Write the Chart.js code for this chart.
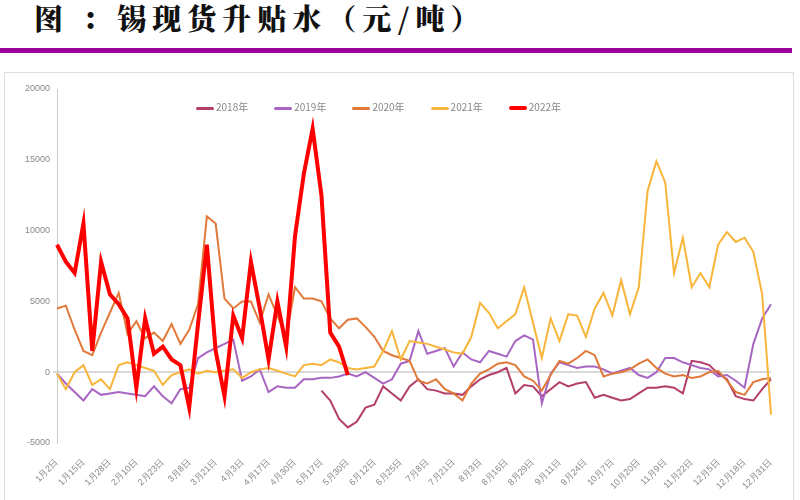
<!DOCTYPE html>
<html>
<head>
<meta charset="utf-8">
<script src="https://cdn.jsdelivr.net/npm/chart.js@4"></script>
<style>
  body { margin: 0; width: 800px; height: 500px; background: #fff; position: relative; overflow: hidden; font-family: "Noto Sans CJK SC", sans-serif; }
  #title { position: absolute; left: 34px; top: -3px; font-size: 29px; font-weight: 900; color: #111; font-family: "Noto Serif CJK SC", "Noto Sans CJK SC", serif; letter-spacing: 6px; white-space: pre; }
  #bar { position: absolute; left: 0; top: 48px; width: 792px; height: 5px; background: #990099; }
  #box { position: absolute; left: 4px; top: 72px; width: 790px; height: 428px; border: 1px solid #ddd; border-bottom: none; box-sizing: border-box; }
  #legend { position: absolute; top: 99px; left: 196px; font-size: 10px; color: #888; display: flex; gap: 26px; }
  #legend span i { display: inline-block; width: 18px; height: 3px; vertical-align: middle; margin-right: 2px; border-radius: 2px; }
</style>
</head>
<body>
<div id="title">图 ：锡现货升贴水（元/吨）</div>
<div id="bar"></div>
<div id="box"><canvas id="c" width="788" height="427"></canvas></div>
<div id="legend"></div>
<script>
// tick labels, one every 3 points
const tickLabels = ['1月2日','1月15日','1月28日','2月10日','2月23日','3月8日','3月21日','4月3日','4月17日','4月30日',
  '5月17日','5月30日','6月12日','6月25日','7月8日','7月21日','8月3日','8月16日','8月29日','9月11日',
  '9月24日','10月7日','10月20日','11月9日','11月22日','12月5日','12月18日','12月31日'];

const y2018 = [null,null,null,null,null,null,null,null,null,null,null,null,null,null,null,null,null,null,null,null,
  null,null,null,null,null,null,null,null,null,null,
  -1300,-2000,-3300,-3900,-3500,-2500,-2300,-1000,-1500,-2000,-1000,-500,-1200,-1300,-1500,-1500,-1600,-1000,-500,-200,
  0,300,-1500,-900,-1000,-1700,-1200,-700,-1000,-800,-700,-1800,-1600,-1800,-2000,-1900,-1500,-1100,-1100,-1000,
  -1100,-1500,800,700,500,-100,-500,-1700,-1900,-2000,-1200,-500];
const y2019 = [-100,-800,-1400,-2000,-1200,-1600,-1500,-1400,-1500,-1600,-1700,-1000,-1700,-2200,-1200,-1100,1000,1400,1700,2000,
  2300,-600,-300,200,-1400,-1000,-1100,-1100,-500,-500,-400,-400,-300,-100,-300,0,-400,-800,-500,600,
  800,2900,1300,1500,1700,400,1400,900,700,1500,1300,1100,2200,2600,2300,-2200,-100,700,500,300,
  400,400,200,-100,100,300,-200,-400,0,1000,1000,700,500,300,200,-300,-200,-600,-1100,2000,3800,4800];
const y2020 = [4500,4700,3000,1500,1200,2800,4200,5600,2700,3600,2400,2800,2200,3400,2000,3000,4800,11000,10500,5200,
  4500,5000,5000,3500,5500,4000,2500,6000,5200,5200,5000,3800,3100,3700,3800,3200,2500,1500,1200,1000,
  800,-600,-800,-500,-1200,-1500,-2000,-800,-100,200,600,700,500,-300,-600,-1300,-200,800,600,1000,
  1500,1200,-300,-100,0,200,600,900,300,-100,-300,-200,-400,-300,0,100,-600,-1400,-1600,-700,-500,-400];
const y2021 = [-100,-1200,0,500,-900,-500,-1200,500,700,500,300,100,-900,-200,0,200,-100,100,0,100,
  200,-400,0,200,300,100,-100,-300,500,600,500,900,700,300,200,300,400,1500,2900,900,
  2200,2100,2000,1800,1600,1400,1300,2500,4900,4200,3100,3600,4100,6000,3500,1000,3800,2200,4100,4000,
  2500,4500,5600,4000,6500,4100,6000,12800,14900,13400,7000,9500,6000,7000,6000,9000,9900,9200,9500,8500,5500,-3000];
const y2022 = [9000,7800,7000,10500,1500,7800,5500,4800,3800,-1100,3800,1300,1800,900,500,-2500,3400,9000,1500,-1700,
  4000,2400,7800,4500,900,5000,1800,9600,14000,17200,12500,2800,1800,-200];

const N = y2021.length;
const labels = [];
for (let i = 0; i < N; i++) labels.push(i % 3 === 0 ? tickLabels[i / 3] : '');

const series = [
  { name: '2018年', data: y2018, color: '#B23E69', width: 2, order: 5 },
  { name: '2019年', data: y2019, color: '#A865C2', width: 2, order: 4 },
  { name: '2020年', data: y2020, color: '#E0793A', width: 2, order: 3 },
  { name: '2021年', data: y2021, color: '#F8B53A', width: 2, order: 2 },
  { name: '2022年', data: y2022, color: '#FF0000', width: 4, order: 1 }
];

document.getElementById('legend').innerHTML = series.map(s =>
  '<span><i style="background:' + s.color + ';height:' + (s.width > 3 ? 4 : 3) + 'px"></i>' + s.name + '</span>').join('');

new Chart(document.getElementById('c'), {
  type: 'line',
  data: {
    labels: labels,
    datasets: series.map(s => ({
      label: s.name, data: s.data, borderColor: s.color, borderWidth: s.width,
      pointRadius: 0, tension: 0, fill: false, order: s.order, spanGaps: false
    }))
  },
  options: {
    responsive: false,
    animation: false,
    layout: { padding: { top: 16, right: 22, left: 0, bottom: 0 } },
    plugins: { legend: { display: false }, tooltip: { enabled: false } },
    scales: {
      x: {
        offset: false,
        afterFit: a => { a.height = 57; },
        grid: { display: false },
        border: { display: false },
        ticks: { autoSkip: false, maxRotation: 45, minRotation: 45, color: '#888', font: { size: 9 }, padding: 6 }
      },
      y: {
        min: -5000, max: 20000,
        afterFit: a => { a.width = 52; },
        grid: { color: c => c.tick.value === 0 ? '#d9d9d9' : 'rgba(0,0,0,0)', lineWidth: 2, drawTicks: true, tickLength: 4 },
        border: { color: '#ccc' },
        ticks: { stepSize: 5000, color: '#888', font: { size: 9 }, callback: v => String(v) }
      }
    }
  }
});
</script>
</body>
</html>
